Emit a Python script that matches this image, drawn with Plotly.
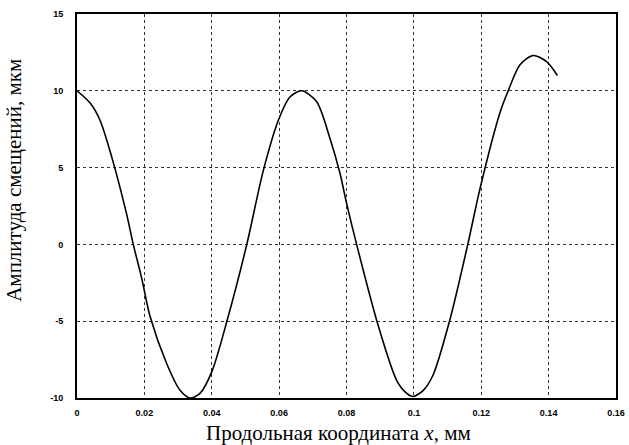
import plotly.graph_objects as go

x_mm = [0.0, 0.0039, 0.0068, 0.0103, 0.0147, 0.0167, 0.0192, 0.0217, 0.0267, 0.0306,
        0.0335, 0.0365, 0.0400, 0.0445, 0.0504, 0.0553, 0.0598, 0.0632, 0.0667, 0.0711,
        0.0751, 0.0781, 0.0800, 0.0830, 0.0893, 0.0950, 0.0979, 0.0998, 0.1028, 0.1057,
        0.1107, 0.1160, 0.1196, 0.1256, 0.1280, 0.1315, 0.1354, 0.1394, 0.1426]
amp_um = [10.0, 9.2, 8.1, 5.7, 2.0, 0.0, -2.2, -4.7, -7.8, -9.5,
          -10.0, -9.7, -8.3, -5.0, 0.0, 4.8, 8.1, 9.6, 10.0, 9.3,
          6.9, 4.6, 2.7, 0.0, -5.2, -8.9, -9.7, -9.9, -9.5, -8.5,
          -4.9, 0.0, 3.6, 8.6, 10.0, 11.7, 12.3, 11.9, 11.0]

x_ticks = [0, 0.02, 0.04, 0.06, 0.08, 0.1, 0.12, 0.14, 0.16]
x_tick_text = ["0", "0.02", "0.04", "0.06", "0.08", "0.1", "0.12", "0.14", "0.16"]
y_ticks = [-10, -5, 0, 5, 10, 15]
y_tick_text = ["-10", "-5", "0", "5", "10", "15"]

x_title = "Продольная координата <i>x</i>, мм"
y_title = "Амплитуда смещений, мкм"

fig = go.Figure()
fig.add_trace(go.Scatter(x=x_mm, y=amp_um, mode="lines",
                         line=dict(color="black", width=1.6, shape="spline", smoothing=0.8),
                         showlegend=False))

tick_font = dict(size=9, family="Liberation Sans Narrow, Arial Narrow, sans-serif",
                 color="black", weight="bold")
fig.update_layout(
    width=629, height=445,
    margin=dict(l=77, r=13, t=14, b=47),
    paper_bgcolor="white", plot_bgcolor="white",
    font=dict(family="Liberation Serif, Times New Roman, serif", color="black"),
    annotations=[
        dict(text=x_title, xref="paper", yref="paper", x=0.486, y=-0.091,
             xanchor="center", yanchor="middle", showarrow=False,
             font=dict(size=21, family="Liberation Serif, serif", color="black")),
        dict(text=y_title, xref="paper", yref="paper", x=-0.117, y=0.568,
             xanchor="center", yanchor="middle", showarrow=False, textangle=-90,
             font=dict(size=21, family="Liberation Serif, serif", color="black")),
    ],
)
fig.update_xaxes(
    range=[0, 0.16], tickvals=x_ticks, ticktext=x_tick_text, tickfont=tick_font,
    showgrid=True, gridcolor="#333", griddash="dot", gridwidth=1,
    showline=True, linecolor="black", linewidth=2, mirror=True,
    ticks="", zeroline=False, automargin=False, ticklabelstandoff=5,
)
fig.update_yaxes(
    range=[-10, 15], tickvals=y_ticks, ticktext=y_tick_text, tickfont=tick_font,
    showgrid=True, gridcolor="#333", griddash="dot", gridwidth=1,
    showline=True, linecolor="black", linewidth=2, mirror=True,
    ticks="", zeroline=False, automargin=False, ticklabelstandoff=10,
)

fig.write_html("out.html", config={"displayModeBar": False},
               post_script="document.body.style.margin='0';document.body.style.overflow='hidden';")
